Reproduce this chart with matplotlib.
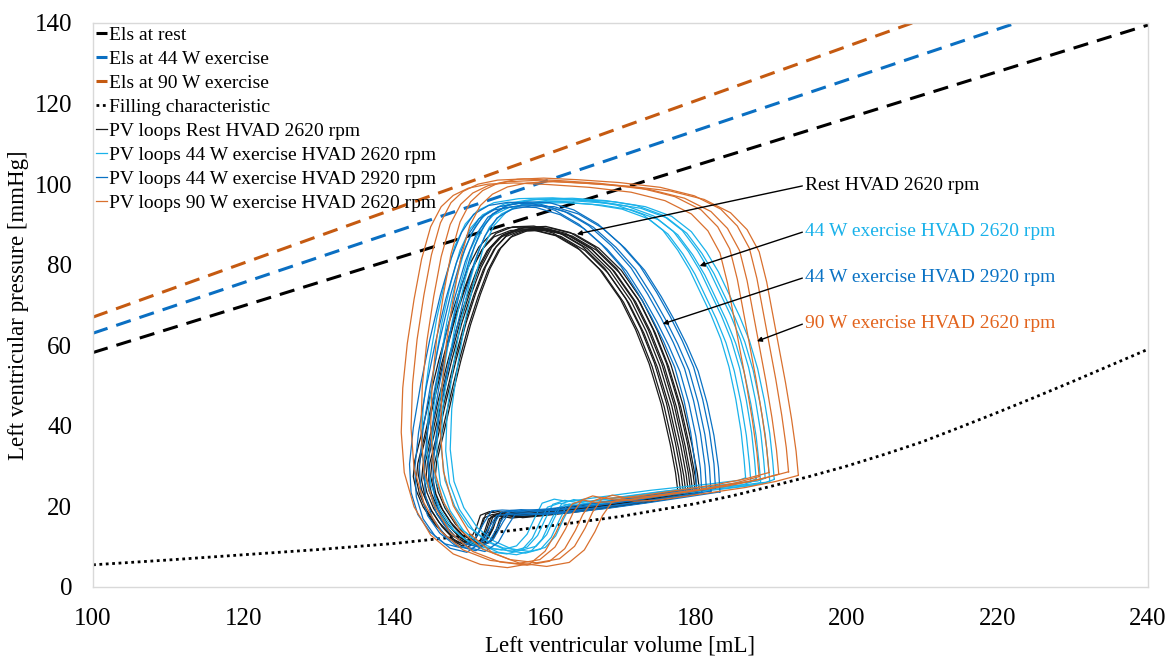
import matplotlib
matplotlib.use("Agg")
import matplotlib.pyplot as plt

plt.rcParams['font.family'] = ['Liberation Serif', 'DejaVu Serif']

# end-systolic elastance lines (two end points each)
els_rest_v = [100, 240]
els_rest_p = [58.2, 139.5]
els_44_v = [100, 222.5]
els_44_p = [63.0, 140.0]
els_90_v = [100, 208.7]
els_90_p = [67.0, 140.0]

# filling characteristic
fill_v = [100, 110, 120, 130, 140, 150, 160, 170, 180, 185, 190, 195, 200, 205, 210, 215,
          220, 225, 230, 235, 240]
fill_p = [5.5, 6.7, 8.0, 9.3, 10.8, 12.8, 15.0, 17.5, 20.7, 22.7, 25.0, 27.4, 30.0, 32.9,
          36.0, 39.6, 43.3, 47.1, 51.0, 55.0, 59.0]

# PV loops, one traced beat per condition + beat-to-beat spread
rest_v = [179.0, 178.7, 178.0, 176.8, 175.2, 173.4, 171.4, 168.6, 165.6, 162.4, 159.2, 156.4,
          154.2, 152.6, 151.2, 149.9, 148.6, 147.3, 146.0, 144.9, 144.1, 143.9, 144.3, 145.2,
          146.6, 148.2, 150.0, 151.5, 152.2, 152.8, 154.0, 155.8, 158.0, 162.0, 167.0, 172.0,
          176.0, 179.0]
rest_p = [23.5, 28.0, 35.0, 45.0, 55.0, 63.5, 71.0, 78.5, 84.0, 87.5, 89.0, 88.8,
          87.2, 84.0, 79.0, 72.5, 65.0, 56.0, 46.0, 37.0, 31.0, 27.0, 23.5, 19.5,
          15.5, 12.3, 10.5, 11.5, 14.0, 17.4, 18.3, 17.6, 18.0, 18.8, 20.0, 21.3,
          22.5, 23.5]
rest_dv = [-1.4, -1.0, -0.7, -0.3, 0.0, 0.3, 0.6, 0.9, 1.2, 1.5]
rest_dp = [0.4, -0.3, 0.6, -0.5, 0.0, 0.3, -0.2, 0.5, -0.4, 0.1]

ex44a_v = [188.6, 188.4, 188.0, 187.3, 186.4, 185.3, 184.0, 182.6, 181.2, 179.6, 177.6, 175.0,
           171.5, 167.5, 163.0, 158.5, 155.2, 153.0, 151.4, 150.0, 148.8, 147.6, 146.6, 145.8,
           145.6, 146.1, 147.4, 149.2, 151.4, 153.8, 156.2, 158.2, 159.6, 160.6, 161.6, 163.2,
           165.0, 168.0, 172.0, 176.0, 180.0, 184.0, 186.5, 187.6, 188.6]
ex44a_p = [26.5, 31.0, 38.0, 46.0, 54.0, 61.0, 67.0, 72.5, 78.0, 83.0, 88.0, 91.8,
           94.2, 95.4, 96.0, 95.8, 94.8, 92.8, 89.5, 84.0, 76.0, 66.0, 55.0, 44.0,
           34.0, 26.0, 19.5, 14.5, 11.2, 9.2, 8.6, 9.6, 12.5, 16.5, 20.2, 21.2,
           20.6, 21.4, 22.4, 23.4, 24.2, 25.0, 25.6, 25.8, 26.5]
ex44a_dv = [-2.0, -1.3, -0.6, 0.0, 0.6, 1.2, 1.8]
ex44a_dp = [0.6, -0.4, 0.3, -0.6, 0.5, -0.2, 0.2]

ex44b_v = [181.6, 181.4, 180.8, 179.9, 178.7, 177.2, 175.6, 173.8, 171.6, 169.0, 166.0, 162.8,
           159.6, 156.6, 154.0, 152.0, 150.4, 149.0, 147.6, 146.2, 145.0, 144.0, 143.5, 143.7,
           144.6, 146.2, 148.2, 150.4, 152.2, 153.4, 154.4, 155.8, 158.0, 162.0, 167.0, 172.0,
           177.0, 181.6]
ex44b_p = [24.0, 30.0, 38.0, 46.0, 54.0, 60.5, 66.5, 72.5, 79.0, 84.5, 89.5, 93.0,
           94.8, 95.0, 94.2, 92.0, 87.5, 81.0, 72.0, 61.0, 50.0, 39.0, 30.0, 23.0,
           17.5, 13.2, 10.2, 9.2, 11.5, 15.5, 18.4, 18.6, 18.4, 18.9, 20.0, 21.3,
           22.7, 24.0]
ex44b_dv = [-1.5, -0.8, -0.2, 0.4, 1.0, 1.6]
ex44b_dp = [0.5, -0.6, 0.2, -0.2, 0.6, -0.4]

ex90_v = [191.0, 190.7, 190.1, 189.3, 188.4, 187.6, 186.8, 185.8, 184.2, 182.0, 178.5, 174.0,
          168.5, 163.0, 158.5, 155.0, 152.4, 150.4, 148.8, 147.4, 146.2, 145.2, 144.3, 143.7,
          143.5, 143.9, 145.2, 147.4, 150.4, 154.0, 157.6, 160.6, 162.6, 164.0, 165.0, 166.2,
          167.6, 169.2, 172.0, 176.0, 180.0, 184.0, 188.0, 191.0]
ex90_p = [28.0, 34.0, 42.0, 51.0, 60.0, 68.0, 76.0, 83.5, 89.0, 93.2, 96.5, 98.6,
          99.8, 100.5, 100.9, 100.6, 99.6, 97.8, 95.0, 90.0, 82.0, 72.0, 61.0, 50.0,
          39.0, 29.0, 20.5, 13.5, 8.8, 6.2, 5.4, 6.4, 9.5, 14.0, 18.0, 21.2,
          22.2, 21.6, 21.8, 22.8, 23.9, 25.0, 26.5, 28.0]
ex90_dv = [-2.6, -1.3, 0.0, 1.3, 2.6]
ex90_dp = [-0.6, 0.4, 0.0, 0.6, -0.3]

fig = plt.figure(figsize=(11.72, 6.59), dpi=100)
ax = fig.add_axes([0.0794, 0.1093, 0.9001, 0.8558])

dash = (0, (5, 3))
ax.plot(els_rest_v, els_rest_p, color='black', lw=2.2, ls=dash, label='Els at rest')
ax.plot(els_44_v, els_44_p, color='#0A6FC2', lw=2.2, ls=dash, label='Els at 44 W exercise')
ax.plot(els_90_v, els_90_p, color='#C55A11', lw=2.2, ls=dash, label='Els at 90 W exercise')
ax.plot(fill_v, fill_p, color='black', lw=2.0, ls=(0, (1, 1.3)), label='Filling characteristic')


def draw_beats(v, p, dvs, dps, color, label):
    for i, (dv, dp) in enumerate(zip(dvs, dps)):
        ax.plot([x + dv for x in v], [y + dp for y in p], color=color, lw=0.9,
                label=label if i == 0 else None)


draw_beats(rest_v, rest_p, rest_dv, rest_dp, '#1a1a1a', 'PV loops Rest HVAD 2620 rpm')
draw_beats(ex44a_v, ex44a_p, ex44a_dv, ex44a_dp, '#1AB2EA', 'PV loops 44 W exercise HVAD 2620 rpm')
draw_beats(ex44b_v, ex44b_p, ex44b_dv, ex44b_dp, '#0A72C4', 'PV loops 44 W exercise HVAD 2920 rpm')
draw_beats(ex90_v, ex90_p, ex90_dv, ex90_dp, '#D9702E', 'PV loops 90 W exercise HVAD 2620 rpm')

# annotations
notes = [('Rest HVAD 2620 rpm', 'black', (164.2, 87.6), 99.7),
         ('44 W exercise HVAD 2620 rpm', '#1AB2EA', (180.5, 79.7), 88.3),
         ('44 W exercise HVAD 2920 rpm', '#0A72C4', (175.6, 65.3), 76.9),
         ('90 W exercise HVAD 2620 rpm', '#E2641E', (188.1, 61.0), 65.5)]
for txt, col, xy, ty in notes:
    ax.annotate(txt, xy=xy, xytext=(194.5, ty), color=col, fontsize=14,
                ha='left', va='center',
                arrowprops=dict(arrowstyle='-|>', color='black', lw=1.0,
                                shrinkA=0, shrinkB=0, mutation_scale=7, relpos=(0, 0.5)))

ax.set_xlim(100, 240)
ax.set_ylim(0, 140)
ax.set_xticks(range(100, 241, 20))
ax.set_yticks(range(0, 141, 20))
ax.tick_params(length=0, labelsize=18, pad=15)
for s in ax.spines.values():
    s.set_color('#D9D9D9')
    s.set_linewidth(1.0)

ax.set_xlabel('Left ventricular volume [mL]', fontsize=16.5, labelpad=4)
ax.set_ylabel('Left ventricular pressure [mmHg]', fontsize=16.5, labelpad=4)

ax.legend(loc='upper left', frameon=False, fontsize=14, handlelength=0.55,
          handletextpad=0.1, labelspacing=0.33, borderaxespad=0.05, borderpad=0.1)

fig.savefig('out.png', dpi=100)
